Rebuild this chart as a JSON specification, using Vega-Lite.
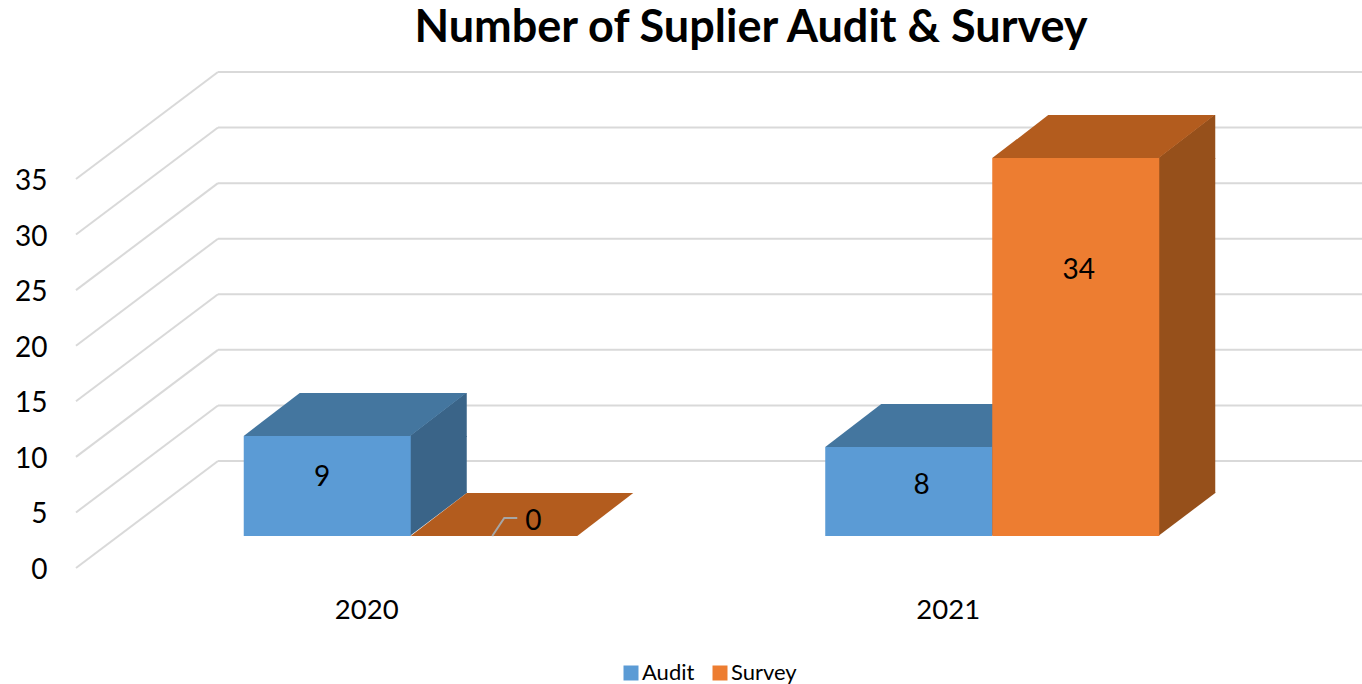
{
"$schema":"https://vega.github.io/schema/vega-lite/v6.json",
"autosize":"none","padding":{"left":76,"top":179,"right":0,"bottom":116},
"width":1286,"height":389,"background":"white",
"title":{"text":"Number of Suplier Audit & Survey","font":"Lato","fontSize":45,"fontWeight":"bold","color":"#000000","anchor":"middle","frame":"group","dx":32,"offset":17},
"config":{"view":{"stroke":null},"font":"Lato"},
"datasets":{
"bars":[{"year":"2020","series":"Audit","value":9},{"year":"2020","series":"Survey","value":0},{"year":"2021","series":"Audit","value":8},{"year":"2021","series":"Survey","value":34}],
"ticks":[{"tick":0},{"tick":5},{"tick":10},{"tick":15},{"tick":20},{"tick":25},{"tick":30},{"tick":35}]
},
"encoding":{
"y":{"field":"value","type":"quantitative","scale":{"domain":[0,35],"nice":false},
"axis":{"values":[0,5,10,15,20,25,30,35],"title":null,"domain":false,"ticks":false,"grid":false,"labelFont":"Lato","labelFontSize":28,"labelColor":"#000000","labelPadding":29,"labelOffset":2.5}},
"x":{"field":"year","type":"nominal","scale":{"type":"band","range":[44,1207],"paddingInner":0.4256,"paddingOuter":0.2128},
"axis":{"title":null,"domain":false,"ticks":false,"grid":false,"labelAngle":0,"labelFont":"Lato","labelFontSize":27.5,"labelColor":"#000000","labelPadding":28,"labelOffset":-44}},
"xOffset":{"field":"series","type":"nominal"}
},
"layer":[
{"data":{"name":"ticks"},"mark":{"type":"rule","color":"#d9d9d9","strokeWidth":2,"xOffset":-25.75,"yOffset":-107,"clip":false},
 "encoding":{"x":{"datum":"2020","bandPosition":0},"x2":{"value":1286},"xOffset":null,"y":{"field":"tick","type":"quantitative"}}},
{"data":{"name":"ticks"},"mark":{"type":"point","filled":false,"shape":"M-167.75,0L-25.75,-107","size":4,"stroke":"#d9d9d9","strokeWidth":2,"opacity":1},
 "encoding":{"x":{"datum":"2020","bandPosition":0},"xOffset":null,"y":{"field":"tick","type":"quantitative"}}},

{"data":{"name":"bars"},"transform":[{"filter":"datum.value > 0 && datum.series == 'Audit'"}],
 "mark":{"type":"bar","width":57,"color":"#3a6488","xOffset":27.5,"yOffset":-32,"y2Offset":-75},
 "encoding":{"xOffset":null,"y2":{"datum":0}}},
{"data":{"name":"bars"},"transform":[{"filter":"datum.value > 0 && datum.series == 'Survey'"}],
 "mark":{"type":"bar","width":57,"color":"#96501b","xOffset":194.5,"yOffset":-32,"y2Offset":-75},
 "encoding":{"xOffset":null,"y2":{"datum":0}}},
{"data":{"name":"bars"},"transform":[{"filter":"datum.value > 0"}],
 "mark":{"type":"point","filled":true,"size":4,"opacity":1,"shape":"M82.5,-32L138.5,-75L139.5,-75L139.5,-31L82.5,-31Z"},
 "encoding":{"fill":{"field":"series","type":"nominal","legend":null,"scale":{"domain":["Audit","Survey"],"range":["#3a6488","#96501b"]}}}},
{"data":{"name":"bars"},"transform":[{"filter":"datum.value > 0"}],
 "mark":{"type":"point","filled":true,"size":4,"opacity":1,"shape":"M82.5,-32L139.5,-75L139.5,-76L82.5,-76Z"},
 "encoding":{"y":{"datum":0},"fill":{"field":"series","type":"nominal","legend":null,"scale":{"domain":["Audit","Survey"],"range":["#3a6488","#96501b"]}}}},
{"data":{"name":"bars"},
 "mark":{"type":"point","filled":true,"size":4,"opacity":1,"shape":"M-83.5,-32L83,-32L139,-75L-27.5,-75Z"},
 "encoding":{"fill":{"field":"series","type":"nominal","legend":null,"scale":{"domain":["Audit","Survey"],"range":["#44769f","#b35c1e"]}}}},
{"data":{"name":"bars"},"transform":[{"filter":"datum.value > 0"}],
 "mark":{"type":"bar","yOffset":-32,"y2Offset":-32},
 "encoding":{"y2":{"datum":0},"color":{"field":"series","type":"nominal","scale":{"domain":["Audit","Survey"],"range":["#5b9bd5","#ed7d31"]},
   "legend":{"title":null,"orient":"none","legendX":544,"legendY":483,"direction":"horizontal","symbolType":"square","symbolSize":225,"labelFont":"Lato","labelFontSize":22,"labelOffset":0,"labelColor":"#000000","columnPadding":14,"symbolStrokeWidth":0}}}},
{"data":{"name":"bars"},"transform":[{"filter":"datum.value == 0"}],
 "mark":{"type":"point","filled":false,"size":4,"opacity":1,"stroke":"#a6a6a6","strokeWidth":2,"shape":"M-2,-32L10,-50L23,-50"},
 "encoding":{}},
{"data":{"name":"bars"},"transform":[{"filter":"datum.series == 'Audit' && datum.year == '2020'"}],
 "mark":{"type":"text","font":"Lato","fontSize":28,"color":"#000000","dx":-5,"dy":10},"encoding":{"text":{"field":"value","type":"quantitative"}}},
{"data":{"name":"bars"},"transform":[{"filter":"datum.series == 'Survey' && datum.year == '2020'"}],
 "mark":{"type":"text","font":"Lato","fontSize":28,"color":"#000000","dx":39,"dy":-46},"encoding":{"text":{"field":"value","type":"quantitative"}}},
{"data":{"name":"bars"},"transform":[{"filter":"datum.series == 'Audit' && datum.year == '2021'"}],
 "mark":{"type":"text","font":"Lato","fontSize":28,"color":"#000000","dx":13,"dy":7},"encoding":{"text":{"field":"value","type":"quantitative"}}},
{"data":{"name":"bars"},"transform":[{"filter":"datum.series == 'Survey' && datum.year == '2021'"}],
 "mark":{"type":"text","font":"Lato","fontSize":28,"color":"#000000","dx":3,"dy":81},"encoding":{"text":{"field":"value","type":"quantitative"}}}
],
"resolve":{"scale":{"color":"independent","fill":"independent"}}
}
